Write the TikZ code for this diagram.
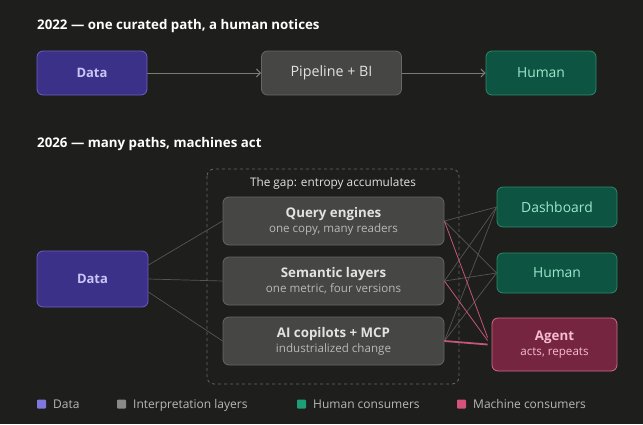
\documentclass[tikz,border=0pt]{standalone}
\usepackage{fontspec}
\setmainfont{Open Sans}
\usetikzlibrary{arrows.meta}
\definecolor{bg}{HTML}{1E1E1D}
\definecolor{dataF}{HTML}{3C3189}
\definecolor{dataD}{HTML}{6B5FC4}
\definecolor{dataT}{HTML}{CBC4F7}
\definecolor{grayF}{HTML}{464645}
\definecolor{grayD}{HTML}{666664}
\definecolor{grayT}{HTML}{E2E2DE}
\definecolor{graySub}{HTML}{B8B8B4}
\definecolor{grnF}{HTML}{0E5443}
\definecolor{grnD}{HTML}{2B8A69}
\definecolor{grnT}{HTML}{9FE6CB}
\definecolor{pnkF}{HTML}{762541}
\definecolor{pnkD}{HTML}{D06C8E}
\definecolor{pnkT}{HTML}{F6BCD0}
\definecolor{pnkL}{HTML}{C4557C}
\definecolor{lineG}{HTML}{565654}
\definecolor{arrG}{HTML}{7A7A78}
\definecolor{lgP}{HTML}{7F77DD}
\definecolor{lgG}{HTML}{8A8A86}
\definecolor{lgN}{HTML}{1D9E75}
\definecolor{lgK}{HTML}{D4537E}
\newcommand\subfnt{\fontsize{11.6}{13}\selectfont\mdseries}
\tikzset{
  box/.style={rounded corners=6pt, line width=0.8pt, align=center, inner sep=0pt},
  databox/.style={box, fill=dataF, draw=dataD, text=dataT, font=\fontsize{13}{15}\selectfont\bfseries},
  graybox/.style={box, fill=grayF, draw=grayD, text=grayT, font=\fontsize{13.3}{15}\selectfont\bfseries},
  grnbox/.style={box, fill=grnF, draw=grnD, text=grnT, font=\fontsize{13.9}{15}\selectfont},
  pnkbox/.style={box, fill=pnkF, draw=pnkD, text=pnkT, font=\fontsize{13.3}{15}\selectfont\bfseries},
  title/.style={anchor=base west, text=white, font=\fontsize{13.3}{16}\selectfont\bfseries, inner sep=0pt},
  flow/.style={draw=arrG, line width=1pt, -{Straight Barb[length=4pt,width=8pt]}},
  thin/.style={draw=lineG, line width=0.7pt},
  pthin/.style={draw=pnkL, line width=0.8pt},
  pthick/.style={draw=pnkL, line width=1.8pt},
  lgsq/.style={rounded corners=1pt, minimum size=9pt, inner sep=0pt},
  lgtx/.style={anchor=base west, text=graySub, font=\fontsize{12}{13}\selectfont, inner sep=0pt}
}
\begin{document}
\begin{tikzpicture}[x=1pt,y=-1pt]
\fill[bg] (0,0) rectangle (643,424);
\useasboundingbox (0,0) rectangle (643,424);

\node[title] (t1) at (37,29) {2022 — one curated path, a human notices};
\node[databox, minimum width=110pt, minimum height=44pt] (d1) at (92,73) {Data};
\node[graybox, minimum width=140pt, minimum height=44pt, font=\fontsize{14.3}{15}\selectfont\mdseries] (p1) at (331.5,73) {Pipeline + BI};
\node[grnbox, minimum width=110pt, minimum height=44pt] (h1) at (541,73) {Human};
\draw[flow] (d1) -- (p1);
\draw[flow] (p1) -- (h1);

\node[title] (t2) at (37,147) {2026 — many paths, machines act};
\draw[draw=grayD, dashed, line width=0.8pt, rounded corners=7pt] (207,169) rectangle (459,384);
\node[text=grayT, font=\fontsize{11.8}{13}\selectfont, inner sep=0pt] (gap) at (333,183) {The gap: entropy accumulates};

\node[databox, minimum width=111pt, minimum height=56pt] (d2) at (92.5,279) {Data};
\node[graybox, minimum width=221pt, minimum height=48pt] (q) at (333.5,221) {Query engines\\[0pt]{\subfnt\color{graySub}one copy, many readers}};
\node[graybox, minimum width=221pt, minimum height=48pt] (s) at (333.5,281) {Semantic layers\\[0pt]{\subfnt\color{graySub}one metric, four versions}};
\node[graybox, minimum width=221pt, minimum height=48pt] (a) at (333.5,341) {AI copilots + MCP\\[0pt]{\subfnt\color{graySub}industrialized change}};

\node[grnbox, minimum width=120pt, minimum height=40pt] (db) at (557,207) {Dashboard};
\node[grnbox, minimum width=120pt, minimum height=40pt] (hm) at (557,273) {Human};
\node[pnkbox, minimum width=125pt, minimum height=53pt] (ag) at (554.5,344.5) {Agent\\[0pt]{\subfnt\color{pnkT}acts, repeats}};

\draw[thin] ([yshift=14pt]d2.east) -- (q.west);
\draw[thin] (d2.east) -- (s.west);
\draw[thin] ([yshift=-13pt]d2.east) -- (a.west);

\draw[thin] (q.east) -- (db.west);
\draw[thin] (q.east) -- (hm.west);
\draw[thin] (s.east) -- (db.west);
\draw[thin] (s.east) -- (hm.west);
\draw[thin] (a.east) -- (db.west);
\draw[thin] (a.east) -- (hm.west);
\draw[pthin] (q.east) -- ([yshift=7pt,xshift=-4pt]ag.west);
\draw[pthin] (s.east) -- ([yshift=4pt,xshift=-4pt]ag.west);
\draw[pthick] (a.east) -- ([xshift=-4pt]ag.west);

\node[lgsq, fill=lgP] (l1) at (41.5,404) {};
\node[lgtx] (l1t) at (53,408.2) {Data};
\node[lgsq, fill=lgG] (l2) at (121.5,404) {};
\node[lgtx] (l2t) at (133,408.2) {Interpretation layers};
\node[lgsq, fill=lgN] (l3) at (301.5,404) {};
\node[lgtx] (l3t) at (313,408.2) {Human consumers};
\node[lgsq, fill=lgK] (l4) at (461.5,404) {};
\node[lgtx] (l4t) at (473,408.2) {Machine consumers};
\end{tikzpicture}
\end{document}
